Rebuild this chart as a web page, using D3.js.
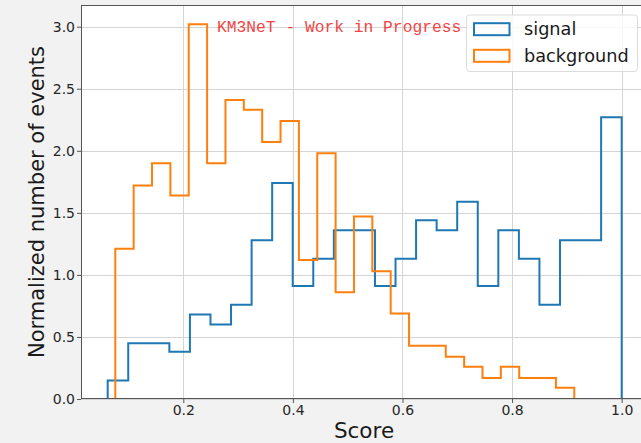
<!DOCTYPE html>
<html>
<head>
<meta charset="utf-8">
<script src="https://cdn.jsdelivr.net/npm/d3@7"></script>
<style>
  html, body { margin: 0; padding: 0; background: #f2f2f2; }
  svg { display: block; font-family: "DejaVu Sans", sans-serif; }
</style>
</head>
<body>
<div id="chart"></div>
<script>
// histogram densities
const signalRange = [0.062, 1.0];
const signalValues = [0.15, 0.45, 0.45, 0.38, 0.68, 0.60, 0.76, 1.28, 1.74, 0.91, 1.13, 1.36, 1.36,
    0.91, 1.13, 1.44, 1.36, 1.59, 0.91, 1.36, 1.13, 0.76, 1.28, 1.28, 2.27];
const backgroundRange = [0.0759, 0.9135];
const backgroundValues = [1.21, 1.72, 1.90, 1.64, 3.02, 1.90, 2.41, 2.33, 2.07, 2.24, 1.12, 1.98, 0.86,
    1.47, 1.03, 0.69, 0.43, 0.43, 0.34, 0.26, 0.17, 0.26, 0.17, 0.17, 0.09];
const xTicks = [0.2, 0.4, 0.6, 0.8, 1.0];
const yTicks = [0, 0.5, 1.0, 1.5, 2.0, 2.5, 3.0];
const seriesNames = ["signal", "background"];
const colors = ["#1f77b4", "#ff7f0e"];

const width = 641, height = 443;
const plot = { left: 81, right: 647, top: 5, bottom: 399 };

const svg = d3.select("#chart").append("svg")
    .attr("width", width)
    .attr("height", height);

const x = d3.scaleLinear().domain([0.0133, 1.0462]).range([plot.left, plot.right]);
const y = d3.scaleLinear().domain([0, 3.175]).range([plot.bottom, plot.top]);

svg.append("rect")
    .attr("x", plot.left).attr("y", plot.top)
    .attr("width", plot.right - plot.left).attr("height", plot.bottom - plot.top)
    .attr("fill", "#fff");

// grid
const grid = svg.append("g").attr("stroke", "#d4d4d4").attr("stroke-width", 1);
grid.selectAll(".gx").data(xTicks).join("line")
    .attr("x1", d => Math.round(x(d)) + 0.5).attr("x2", d => Math.round(x(d)) + 0.5)
    .attr("y1", plot.top).attr("y2", plot.bottom);
grid.selectAll(".gy").data(yTicks).join("line")
    .attr("y1", d => Math.round(y(d)) + 0.5).attr("y2", d => Math.round(y(d)) + 0.5)
    .attr("x1", plot.left).attr("x2", plot.right);

// step outlines
function stepPoints(range, values) {
    const w = (range[1] - range[0]) / values.length;
    const pts = [[range[0], 0]];
    values.forEach((v, i) => {
        pts.push([range[0] + i * w, v]);
        pts.push([range[0] + (i + 1) * w, v]);
    });
    pts.push([range[1], 0]);
    return pts;
}

const line = d3.line().x(d => x(d[0])).y(d => y(d[1]));
const series = [
    stepPoints(signalRange, signalValues),
    stepPoints(backgroundRange, backgroundValues)
];

svg.append("defs").append("clipPath").attr("id", "clip")
    .append("rect")
    .attr("x", plot.left).attr("y", plot.top)
    .attr("width", plot.right - plot.left).attr("height", plot.bottom - plot.top);

svg.append("g").attr("clip-path", "url(#clip)")
    .selectAll("path").data(series).join("path")
    .attr("d", line)
    .attr("fill", "none")
    .attr("stroke", (d, i) => colors[i])
    .attr("stroke-width", 2)
    .attr("stroke-linejoin", "miter");

// axes
const xAxis = svg.append("g")
    .attr("transform", `translate(0,${plot.bottom})`)
    .call(d3.axisBottom(x).tickValues(xTicks).tickFormat(d3.format(".1f")).tickSize(4).tickPadding(2));
const yAxis = svg.append("g")
    .attr("transform", `translate(${plot.left},0)`)
    .call(d3.axisLeft(y).tickValues(yTicks).tickFormat(d3.format(".1f")).tickSize(4).tickPadding(2));

[xAxis, yAxis].forEach(a => {
    a.select(".domain").remove();
    a.selectAll("line").attr("stroke", "#555");
    a.selectAll("text")
        .attr("fill", "#262626")
        .style("font-size", "14px")
        .style("font-family", "'DejaVu Sans', sans-serif");
});

// spines
svg.append("rect")
    .attr("x", plot.left + 0.5).attr("y", plot.top + 0.5)
    .attr("width", plot.right - plot.left - 1).attr("height", plot.bottom - plot.top - 1)
    .attr("fill", "none")
    .attr("stroke", "#555")
    .attr("stroke-width", 1);

// labels
svg.append("text")
    .attr("x", (plot.left + 647) / 2 - 0)
    .attr("x", 364)
    .attr("y", 437.5)
    .attr("text-anchor", "middle")
    .attr("fill", "#1a1a1a")
    .style("font-size", "21.5px")
    .text("Score");

svg.append("text")
    .attr("transform", `translate(43.5,${(plot.top + plot.bottom) / 2}) rotate(-90)`)
    .attr("text-anchor", "middle")
    .attr("fill", "#1a1a1a")
    .style("font-size", "21px")
    .text("Normalized number of events");

svg.append("text")
    .attr("x", 217)
    .attr("y", 32.3)
    .attr("fill", "#f04545")
    .style("font-family", "'Courier New', 'Liberation Mono', monospace")
    .style("font-size", "16.3px")
    .text("KM3NeT - Work in Progress");

// legend
const legend = svg.append("g");
legend.append("rect")
    .attr("x", 466.5).attr("y", 15)
    .attr("width", 171).attr("height", 56.5)
    .attr("rx", 3)
    .attr("fill", "rgba(255,255,255,0.8)")
    .attr("stroke", "#dcdcdc");

const items = legend.selectAll(".item").data(seriesNames).join("g")
    .attr("transform", (d, i) => `translate(0,${i * 26.6})`);
items.append("rect")
    .attr("x", 474).attr("y", 23.2)
    .attr("width", 35.5).attr("height", 12)
    .attr("fill", "none")
    .attr("stroke", (d, i) => colors[i])
    .attr("stroke-width", 2);
items.append("text")
    .attr("x", 524).attr("y", 35.3)
    .attr("fill", "#1a1a1a")
    .style("font-size", "17.7px")
    .text(d => d);
</script>
</body>
</html>
